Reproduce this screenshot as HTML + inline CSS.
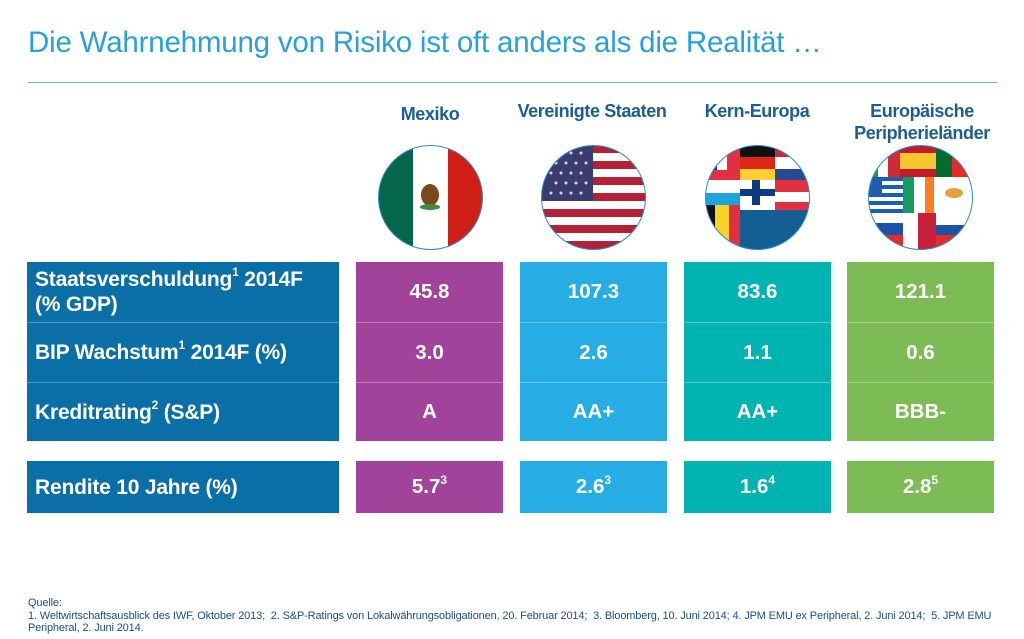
<!DOCTYPE html>
<html><head><meta charset="utf-8"><style>
*{margin:0;padding:0;box-sizing:border-box}
body{width:1024px;height:639px;background:#fff;font-family:"Liberation Sans",Arial,sans-serif;position:relative;overflow:hidden}
.t{position:absolute;left:28px;top:26px;font-size:29.5px;color:#27a0dc;letter-spacing:-0.2px;white-space:nowrap}
.hr{position:absolute;left:28px;top:82px;width:969px;height:1px;background:#62b8e4}
.h{position:absolute;color:#1b5d97;font-weight:bold;font-size:18px;text-align:center;width:180px;line-height:22px;letter-spacing:-0.4px}
.box{position:absolute;color:#fff;font-weight:bold}
.cell{position:absolute;left:0;width:100%;display:flex;align-items:center;justify-content:center;font-size:20.5px}
.lab{justify-content:flex-start;padding-left:8px;font-size:21px;line-height:25px;letter-spacing:-0.2px}
.d{border-top:1px solid rgba(255,255,255,0.3)}
sup{font-size:12px;vertical-align:top;position:relative;top:-1px;line-height:12px}
.fn{position:absolute;left:28px;top:597px;font-size:11px;color:#1b4f8d;line-height:12.5px;letter-spacing:-0.15px;width:1000px}
svg.f{position:absolute}
</style></head><body>
<div class="t">Die Wahrnehmung von Risiko ist oft anders als die Realität …</div>
<div class="hr"></div>
<div class="h" style="left:340px;top:103px">Mexiko</div>
<div class="h" style="left:502px;top:100px;width:180px">Vereinigte Staaten</div>
<div class="h" style="left:667px;top:100px">Kern-Europa</div>
<div class="h" style="left:832px;top:100px;">Europäische<br>Peripherieländer</div>

<svg class="f" style="left:377px;top:144px" width="107" height="107" viewBox="-1 -1 107 107"><defs><clipPath id="c"><circle cx="52.5" cy="52.5" r="52"/></clipPath></defs>
<g clip-path="url(#c)"><rect x="0" y="0" width="35" height="105" fill="#056649"/><rect x="35" y="0" width="35" height="105" fill="#fff"/><rect x="70" y="0" width="35" height="105" fill="#ce2017"/>
<ellipse cx="52" cy="50" rx="9" ry="11" fill="#7a4a1f"/><ellipse cx="52" cy="62" rx="10" ry="3" fill="#3a8a3f"/></g>
<circle cx="52.5" cy="52.5" r="52" fill="none" stroke="#2d8ccc" stroke-width="1"/></svg>

<svg class="f" style="left:540px;top:144px" width="107" height="107" viewBox="-1 -1 107 107"><defs><clipPath id="c2"><circle cx="52.5" cy="52.5" r="52"/></clipPath></defs>
<g clip-path="url(#c2)"><rect width="105" height="105" fill="#fff"/>
<g fill="#b22234"><rect y="0" width="105" height="8"/><rect y="16" width="105" height="8"/><rect y="32" width="105" height="8"/><rect y="48" width="105" height="8"/><rect y="64" width="105" height="8"/><rect y="80" width="105" height="8"/><rect y="96" width="105" height="9"/></g>
<rect width="52" height="56" fill="#3c3b6e"/>
<g fill="#fff" opacity="0.8"><circle cx="10" cy="8" r="1.5"/><circle cx="20" cy="8" r="1.5"/><circle cx="30" cy="8" r="1.5"/><circle cx="40" cy="8" r="1.5"/><circle cx="15" cy="18" r="1.5"/><circle cx="25" cy="18" r="1.5"/><circle cx="35" cy="18" r="1.5"/><circle cx="45" cy="18" r="1.5"/><circle cx="10" cy="28" r="1.5"/><circle cx="20" cy="28" r="1.5"/><circle cx="30" cy="28" r="1.5"/><circle cx="40" cy="28" r="1.5"/><circle cx="15" cy="38" r="1.5"/><circle cx="25" cy="38" r="1.5"/><circle cx="35" cy="38" r="1.5"/><circle cx="45" cy="38" r="1.5"/><circle cx="10" cy="48" r="1.5"/><circle cx="20" cy="48" r="1.5"/><circle cx="30" cy="48" r="1.5"/><circle cx="40" cy="48" r="1.5"/></g></g>
<circle cx="52.5" cy="52.5" r="52" fill="none" stroke="#2d8ccc" stroke-width="1"/></svg>

<svg class="f" style="left:704px;top:144px" width="107" height="107" viewBox="-1 -1 107 107"><defs><clipPath id="c3"><circle cx="52.5" cy="52.5" r="52"/></clipPath></defs>
<g clip-path="url(#c3)"><rect width="105" height="105" fill="#fff"/>
<rect x="0" y="0" width="12" height="25" fill="#23339a"/><rect x="22" y="0" width="13" height="35" fill="#e33040"/><rect x="0" y="25" width="35" height="10" fill="#e33040"/>
<rect x="0" y="48" width="35" height="12" fill="#1ea4dd"/>
<rect x="0" y="60" width="10" height="45" fill="#111"/><rect x="10" y="60" width="14" height="45" fill="#f5d327"/><rect x="24" y="60" width="11" height="45" fill="#e33040"/>
<rect x="35" y="0" width="35" height="12" fill="#111"/><rect x="35" y="12" width="35" height="12" fill="#dd2718"/><rect x="35" y="24" width="35" height="11" fill="#fbcf35"/>
<rect x="47" y="35" width="8" height="25" fill="#0e3a82"/><rect x="35" y="44" width="35" height="7" fill="#0e3a82"/>
<rect x="70" y="0" width="35" height="12" fill="#c32b3a"/><rect x="70" y="24" width="35" height="11" fill="#234b8d"/>
<rect x="70" y="35" width="35" height="12" fill="#e33040"/><rect x="70" y="57" width="35" height="8" fill="#e33040"/>
<rect x="35" y="65" width="70" height="40" fill="#145e93"/></g>
<circle cx="52.5" cy="52.5" r="52" fill="none" stroke="#2d8ccc" stroke-width="1"/></svg>

<svg class="f" style="left:867px;top:144px" width="107" height="107" viewBox="-1 -1 107 107"><defs><clipPath id="c4"><circle cx="52.5" cy="52.5" r="52"/></clipPath></defs>
<g clip-path="url(#c4)"><rect width="105" height="105" fill="#fff"/>
<rect x="0" y="0" width="10" height="32" fill="#1f9a4a"/><rect x="20" y="0" width="12" height="32" fill="#cf2b37"/>
<rect x="32" y="0" width="36" height="32" fill="#c21b2a"/><rect x="32" y="8" width="36" height="16" fill="#f7c531"/>
<rect x="68" y="0" width="16" height="32" fill="#046a2e"/><rect x="84" y="0" width="21" height="32" fill="#e42b25"/>
<g fill="#1b5fae"><rect x="0" y="32" width="35" height="4"/><rect x="0" y="40" width="35" height="4"/><rect x="0" y="48" width="35" height="4"/><rect x="0" y="56" width="35" height="4"/><rect x="0" y="64" width="35" height="4"/><rect x="0" y="32" width="14" height="16"/></g>
<rect x="35" y="32" width="11" height="36" fill="#169b62"/><rect x="57" y="32" width="9" height="36" fill="#f77f22"/>
<ellipse cx="86" cy="48" rx="9" ry="5" fill="#e4a040"/>
<rect x="0" y="78" width="35" height="12" fill="#1b53a8"/><rect x="0" y="90" width="35" height="15" fill="#e42b25"/>
<rect x="50" y="68" width="18" height="37" fill="#c8203a"/><rect x="68" y="90" width="37" height="15" fill="#e42b25"/><rect x="68" y="80" width="37" height="10" fill="#1b53a8"/></g>
<circle cx="52.5" cy="52.5" r="52" fill="none" stroke="#2d8ccc" stroke-width="1"/></svg>

<div class="box" style="left:27px;top:262px;width:312px;height:179px;background:#0a6ea7">
 <div class="cell lab" style="top:0;height:60px"><span>Staatsverschuldung<sup>1</sup> 2014F<br>(% GDP)</span></div>
 <div class="cell lab d" style="top:60px;height:60px"><span>BIP Wachstum<sup>1</sup> 2014F (%)</span></div>
 <div class="cell lab d" style="top:120px;height:59px"><span>Kreditrating<sup>2</sup> (S&amp;P)</span></div>
</div>
<div class="box" style="left:27px;top:461px;width:312px;height:52px;background:#0a6ea7"><div class="cell lab" style="top:0;height:52px"><span>Rendite 10 Jahre (%)</span></div></div>

<div class="box" style="left:356px;top:262px;width:147px;height:179px;background:#a2439b"><div class="cell" style="top:0;height:60px">45.8</div><div class="cell d" style="top:60px;height:60px">3.0</div><div class="cell d" style="top:120px;height:59px">A</div></div>
<div class="box" style="left:520px;top:262px;width:147px;height:179px;background:#26ade4"><div class="cell" style="top:0;height:60px">107.3</div><div class="cell d" style="top:60px;height:60px">2.6</div><div class="cell d" style="top:120px;height:59px">AA+</div></div>
<div class="box" style="left:684px;top:262px;width:147px;height:179px;background:#02b4b1"><div class="cell" style="top:0;height:60px">83.6</div><div class="cell d" style="top:60px;height:60px">1.1</div><div class="cell d" style="top:120px;height:59px">AA+</div></div>
<div class="box" style="left:847px;top:262px;width:147px;height:179px;background:#7dbb55"><div class="cell" style="top:0;height:60px">121.1</div><div class="cell d" style="top:60px;height:60px">0.6</div><div class="cell d" style="top:120px;height:59px">BBB-</div></div>

<div class="box" style="left:356px;top:461px;width:147px;height:52px;background:#a2439b"><div class="cell" style="top:0;height:52px"><span>5.7<sup>3</sup></span></div></div>
<div class="box" style="left:520px;top:461px;width:147px;height:52px;background:#26ade4"><div class="cell" style="top:0;height:52px"><span>2.6<sup>3</sup></span></div></div>
<div class="box" style="left:684px;top:461px;width:147px;height:52px;background:#02b4b1"><div class="cell" style="top:0;height:52px"><span>1.6<sup>4</sup></span></div></div>
<div class="box" style="left:847px;top:461px;width:147px;height:52px;background:#7dbb55"><div class="cell" style="top:0;height:52px"><span>2.8<sup>5</sup></span></div></div>

<div class="fn">Quelle:<br>1. Weltwirtschaftsausblick des IWF, Oktober 2013;&nbsp; 2. S&amp;P-Ratings von Lokalwährungsobligationen, 20. Februar 2014;&nbsp; 3. Bloomberg, 10. Juni 2014; 4. JPM EMU ex Peripheral, 2. Juni 2014;&nbsp; 5. JPM EMU<br>Peripheral, 2. Juni 2014.</div>
</body></html>
